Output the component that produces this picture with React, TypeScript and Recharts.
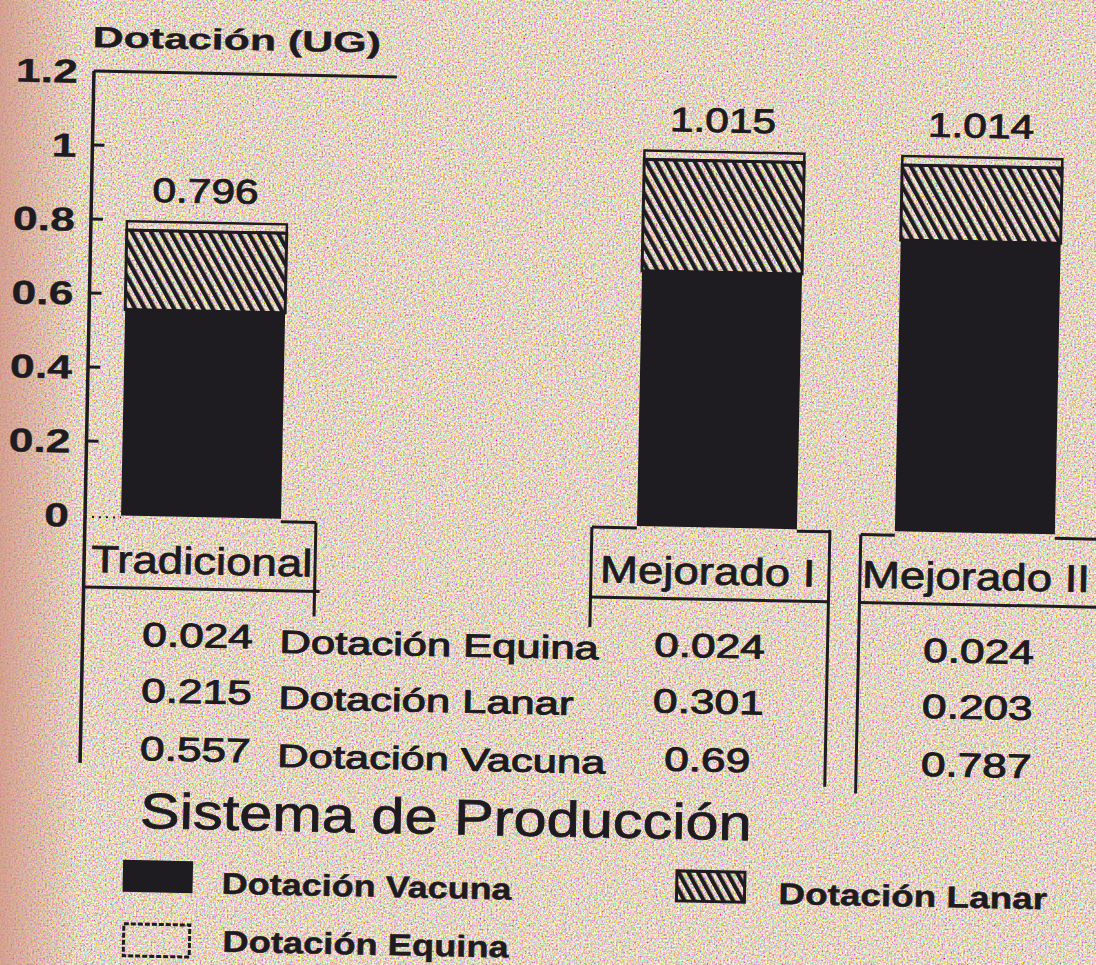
import React from 'react';
import { BarChart, Bar, XAxis, YAxis, LabelList, ReferenceLine, Legend } from 'recharts';

// ---------- data ----------
const categories = ['Tradicional', '', 'Mejorado I', 'Mejorado II'];
const vacuna = [0.557, null, 0.69, 0.787];
const lanar = [0.215, null, 0.301, 0.203];
const equina = [0.024, null, 0.024, 0.024];
const totalLabels = ['0.796', '', '1.015', '1.014'];
const yTicks = [0, 0.2, 0.4, 0.6, 0.8, 1, 1.2];
const yTickLabels = ['0', '0.2', '0.4', '0.6', '0.8', '1', '1.2'];
const rowLabels = ['Dotación Equina', 'Dotación Lanar', 'Dotación Vacuna'];
const tableEquina = ['0.024', '', '0.024', '0.024'];
const tableLanar = ['0.215', '', '0.301', '0.203'];
const tableVacuna = ['0.557', '', '0.69', '0.787'];
const seriesNames = ['Dotación Vacuna', 'Dotación Lanar', 'Dotación Equina'];
const yTitle = 'Dotación (UG)';
const xTitle = 'Sistema de Producción';

const data = categories.map((name, i) => ({
  name,
  vacuna: vacuna[i],
  lanar: lanar[i],
  equina: equina[i],
  total: totalLabels[i],
}));

// ---------- style ----------
const INK = '#1e1b21';
const FONT = '"Liberation Sans", Arial, Helvetica, sans-serif';
const CHART_W = 1104;
const CHART_H = 965;
const AXIS_X = 85;
const TICK_MARGIN = 16;

function SText(props: any) {
  const { x, y, sx = 1.3, size, weight = 'normal', anchor = 'start', stroke = 0, children } = props;
  return (
    <text
      transform={`translate(${x},${y}) scale(${sx},1)`}
      x={0}
      y={0}
      fontFamily={FONT}
      fontSize={size}
      fontWeight={weight}
      textAnchor={anchor}
      fill={INK}
      stroke={stroke ? INK : 'none'}
      strokeWidth={stroke}
    >
      {children}
    </text>
  );
}

const YTick = (props: any) => {
  const { x, y, index } = props;
  const ax = x + TICK_MARGIN;
  return (
    <g>
      {index > 0 && index < yTicks.length - 1 ? (
        <line x1={ax} x2={ax + 12} y1={y} y2={y} stroke={INK} strokeWidth={3} />
      ) : null}
      <SText x={x} y={y + 12} size={33} weight="bold" anchor="end" sx={1.35} stroke={0.4}>
        {yTickLabels[index]}
      </SText>
    </g>
  );
};

const XTick = (props: any) => {
  const { x: c, y: base, index } = props;
  const rows = [tableEquina[index], tableLanar[index], tableVacuna[index]];
  const rowY = [130, 186, 244];
  const lw = 3;
  if (index === 1) {
    return (
      <g>
        {rowLabels.map((t, i) => (
          <SText key={t} x={c - 177} y={base + rowY[i] + 4} size={32} sx={1.36} stroke={1}>
            {t}
          </SText>
        ))}
      </g>
    );
  }
  let left = AXIS_X;
  let right = c + 115;
  let valueX = c;
  const parts: any[] = [];
  if (index === 0) {
    right = c + 115;
    parts.push(<line key="dot" x1={AXIS_X} x2={c - 80} y1={base + 2} y2={base + 2} stroke={INK} strokeWidth={2} strokeDasharray="2 5" />);
    parts.push(<line key="top" x1={c + 80} x2={right} y1={base + 3} y2={base + 3} stroke={INK} strokeWidth={lw} />);
    parts.push(<line key="rv" x1={right} x2={right} y1={base + 3} y2={base + 97} stroke={INK} strokeWidth={lw} />);
    parts.push(<line key="ax" x1={AXIS_X} x2={AXIS_X} y1={base} y2={base + 248} stroke={INK} strokeWidth={3.5} />);
    valueX = c - 1;
  } else if (index === 2) {
    left = c - 125;
    right = c + 113;
    parts.push(<line key="t1" x1={left} x2={c - 80} y1={base + 2} y2={base + 2} stroke={INK} strokeWidth={lw} />);
    parts.push(<line key="t2" x1={c + 80} x2={right} y1={base + 2} y2={base + 2} stroke={INK} strokeWidth={lw} />);
    parts.push(<line key="lv" x1={left} x2={left} y1={base + 2} y2={base + 102} stroke={INK} strokeWidth={lw} />);
    parts.push(<line key="rv" x1={right} x2={right} y1={base} y2={base + 257} stroke={INK} strokeWidth={lw} />);
    valueX = c - 5;
  } else {
    left = c - 114;
    right = c + 160;
    parts.push(<line key="t1" x1={left} x2={c - 80} y1={base + 4} y2={base + 4} stroke={INK} strokeWidth={lw} />);
    parts.push(<line key="t2" x1={c + 80} x2={right} y1={base + 4} y2={base + 4} stroke={INK} strokeWidth={lw} />);
    parts.push(<line key="lv" x1={left} x2={left} y1={base + 4} y2={base + 263} stroke={INK} strokeWidth={lw} />);
    valueX = c + 6;
  }
  parts.push(<line key="sep" x1={left} x2={right + (index === 0 ? 5 : 0)} y1={base + 72} y2={base + 72} stroke={INK} strokeWidth={lw} />);
  return (
    <g>
      {parts}
      <SText x={left + (index === 2 ? 9 : index === 0 ? 7 : 2)} y={base + 57} size={38} sx={1.2} stroke={0.8}>
        {categories[index]}
      </SText>
      {rows.map((v, i) => (
        <SText key={i} x={valueX} y={base + rowY[i]} size={33.5} sx={1.32} anchor="middle" stroke={1}>
          {v}
        </SText>
      ))}
    </g>
  );
};

const TotalLabel = (props: any) => {
  const { x, y, width, value } = props;
  if (!value) return null;
  return (
    <SText x={x + width / 2 - 2} y={y - 20} size={34} anchor="middle" sx={1.25} stroke={0.9}>
      {value}
    </SText>
  );
};

const YTitle = (props: any) => {
  const vb = props.viewBox || { x: 0, y: 71, width: AXIS_X, height: 444 };
  return (
    <SText x={vb.x + vb.width - 2} y={vb.y - 24} size={29} weight="bold" sx={1.48} stroke={0.4}>
      {yTitle}
    </SText>
  );
};

const XTitle = (props: any) => {
  const vb = props.viewBox || { x: AXIS_X, y: 515 };
  return (
    <SText x={AXIS_X + 61} y={vb.y + 312} size={50} sx={1.19} stroke={0.8}>
      {xTitle}
    </SText>
  );
};

const HatchDef = ({ id }: any) => (
  <pattern id={id} patternUnits="userSpaceOnUse" width={8.5} height={10} patternTransform="rotate(-30)">
    <rect x={0} y={0} width={4.2} height={10} fill={INK} />
  </pattern>
);

const LegendContent = () => (
  <svg width={CHART_W} height={CHART_H} style={{ position: 'absolute', left: 0, top: 0, overflow: 'visible' }}>
    <defs>
      <HatchDef id="hatchLegend" />
    </defs>
    <rect x={130} y={859} width={70} height={32} fill={INK} />
    <SText x={229} y={891} size={30} weight="bold" sx={1.2} stroke={0.5}>
      {seriesNames[0]}
    </SText>
    <rect x={684} y={859} width={68} height={30} fill="url(#hatchLegend)" stroke={INK} strokeWidth={3} />
    <SText x={786} y={890} size={30} weight="bold" sx={1.23} stroke={0.5}>
      {seriesNames[1]}
    </SText>
    <rect x={132} y={923} width={66} height={32} fill="none" stroke={INK} strokeWidth={3} strokeDasharray="5 2" />
    <SText x={231} y={949} size={30} weight="bold" sx={1.21} stroke={0.5}>
      {seriesNames[2]}
    </SText>
  </svg>
);

export default function App() {
  return (
    <div
      style={{
        position: 'absolute',
        left: 0,
        top: 0,
        width: 1096,
        height: 965,
        overflow: 'hidden',
        background: '#d3b89c',
      }}
    >
      <svg width={1096} height={965} style={{ position: 'absolute', left: 0, top: 0 }}>
        <defs>
          <filter id="grain" x="0" y="0" width="100%" height="100%">
            <feTurbulence type="fractalNoise" baseFrequency="0.55" numOctaves={2} seed={7} />
            <feColorMatrix
              type="matrix"
              values="1.7 0 0 0 -0.06  0 1.7 0 0 -0.19  0 0 1.7 0 -0.3  0 0 0 0 1"
            />
          </filter>
          <linearGradient id="edge" x1="0" x2="1" y1="0" y2="0">
            <stop offset="0" stopColor="#cf8f80" stopOpacity={0.75} />
            <stop offset="1" stopColor="#cf8f80" stopOpacity={0} />
          </linearGradient>
        </defs>
        <rect width={1096} height={965} filter="url(#grain)" />
        <rect width={80} height={965} fill="url(#edge)" />
      </svg>
      <div
        style={{
          position: 'absolute',
          left: 0,
          top: 0,
          width: CHART_W,
          height: CHART_H,
          transform: 'rotate(1.15deg)',
          transformOrigin: '90px 517px',
        }}
      >
        <BarChart
          width={CHART_W}
          height={CHART_H}
          data={data}
          margin={{ top: 71, right: 0, bottom: 0, left: 0 }}
          barSize={160}
          style={{ fontFamily: FONT }}
        >
          <defs>
            <HatchDef id="hatch" />
          </defs>
          <YAxis
            type="number"
            domain={[0, 1.2]}
            ticks={yTicks}
            interval={0}
            width={AXIS_X}
            tickSize={0}
            tickMargin={TICK_MARGIN}
            tickLine={false}
            axisLine={{ stroke: INK, strokeWidth: 3.5 }}
            tick={<YTick />}
            label={<YTitle />}
          />
          <XAxis
            dataKey="name"
            type="category"
            height={450}
            interval={0}
            tickSize={0}
            tickMargin={0}
            tickLine={false}
            axisLine={false}
            padding={{ left: -13, right: 0 }}
            tick={<XTick />}
            label={<XTitle />}
          />
          <ReferenceLine
            y={1.2}
            ifOverflow="visible"
            shape={(p: any) => (
              <line x1={AXIS_X} y1={p.y1} x2={AXIS_X + 303} y2={p.y1} stroke={INK} strokeWidth={3} />
            )}
          />
          <Bar dataKey="vacuna" name={seriesNames[0]} stackId="s" fill={INK} isAnimationActive={false} />
          <Bar dataKey="lanar" name={seriesNames[1]} stackId="s" fill="url(#hatch)" stroke={INK} strokeWidth={3} isAnimationActive={false} />
          <Bar dataKey="equina" name={seriesNames[2]} stackId="s" fill="none" stroke={INK} strokeWidth={2.5} isAnimationActive={false}>
            <LabelList dataKey="total" content={<TotalLabel />} />
          </Bar>
          <Legend
            layout="horizontal"
            verticalAlign="middle"
            align="center"
            wrapperStyle={{ position: 'absolute', left: 0, top: 0, width: CHART_W, height: CHART_H, pointerEvents: 'none' }}
            content={<LegendContent />}
          />
        </BarChart>
      </div>
    </div>
  );
}
